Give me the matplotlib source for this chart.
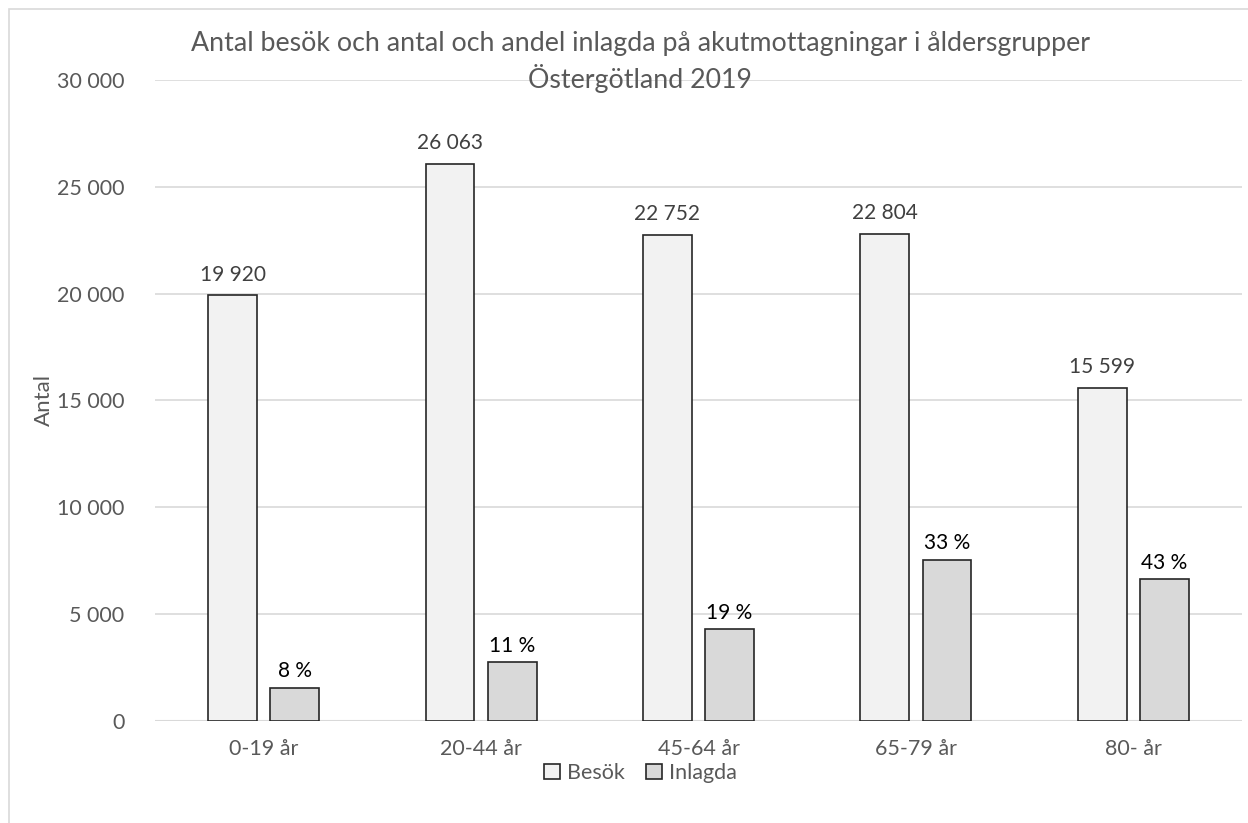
import numpy as np
import matplotlib.pyplot as plt
from matplotlib.patches import Rectangle

# age groups and counts
groups = ['0-19 år', '20-44 år', '45-64 år', '65-79 år', '80- år']
besok = [19920, 26063, 22752, 22804, 15599]
inlagda = [1550, 2750, 4300, 7550, 6650]
andel = [8, 11, 19, 33, 43]

plt.rcParams['font.family'] = ['Lato', 'DejaVu Sans']

fig = plt.figure(figsize=(12.48, 8.23), dpi=100)
ax = fig.add_axes([155/1248, 1 - 721/823, 1087/1248, 641/823])

# light frame around the chart area
fig.patches.append(Rectangle((9/1248, -0.1), 1.2, 1 - 9/823 + 0.1, transform=fig.transFigure,
                             fill=False, edgecolor='#d9d9d9', linewidth=1.2))

x = np.arange(len(groups))
w = 0.225
off = 0.143
b1 = ax.bar(x - off, besok, w, color='#f2f2f2', edgecolor='#262626', linewidth=1.2, label='Besök', zorder=3)
b2 = ax.bar(x + off, inlagda, w, color='#d9d9d9', edgecolor='#262626', linewidth=1.2, label='Inlagda', zorder=3)

for xi, v in zip(x, besok):
    ax.text(xi - off, v + 500, '{:,}'.format(v).replace(',', ' '), ha='center', va='bottom',
            fontsize=15, color='#404040')
for xi, v, p in zip(x, inlagda, andel):
    ax.text(xi + off, v + 300, '{} %'.format(p), ha='center', va='bottom',
            fontsize=15, color='black')

ax.set_xlim(-0.5, len(groups) - 0.5)
ax.set_ylim(0, 30000)
ax.set_yticks(np.arange(0, 30001, 5000))
ax.set_yticklabels(['{:,}'.format(t).replace(',', ' ') for t in range(0, 30001, 5000)])
ax.set_xticks(x)
ax.set_xticklabels(groups)
ax.tick_params(axis='both', length=0, labelsize=15.5, labelcolor='#595959')
ax.tick_params(axis='y', pad=22)
ax.tick_params(axis='x', pad=13)
ax.grid(axis='y', color='#d9d9d9', linewidth=1.2, zorder=0)
for s in ax.spines.values():
    s.set_visible(False)
ax.axhline(0, color='#d9d9d9', linewidth=1.5, zorder=2)

ax.set_ylabel('Antal', fontsize=16, color='#595959', labelpad=2)

fig.text(0.513, 1 - 62/823, 'Antal besök och antal och andel inlagda på akutmottagningar i åldersgrupper\nÖstergötland 2019',
         ha='center', va='center', fontsize=19.3, color='#595959', linespacing=1.3)

ax.legend(loc='center', bbox_to_anchor=(0.513, 1 - 773/823), bbox_transform=fig.transFigure,
          ncol=2, frameon=False, fontsize=15.5, handlelength=0.75, handleheight=0.75,
          handletextpad=0.3, columnspacing=1.0, labelcolor='#595959')

fig.savefig('out.png', dpi=100)
